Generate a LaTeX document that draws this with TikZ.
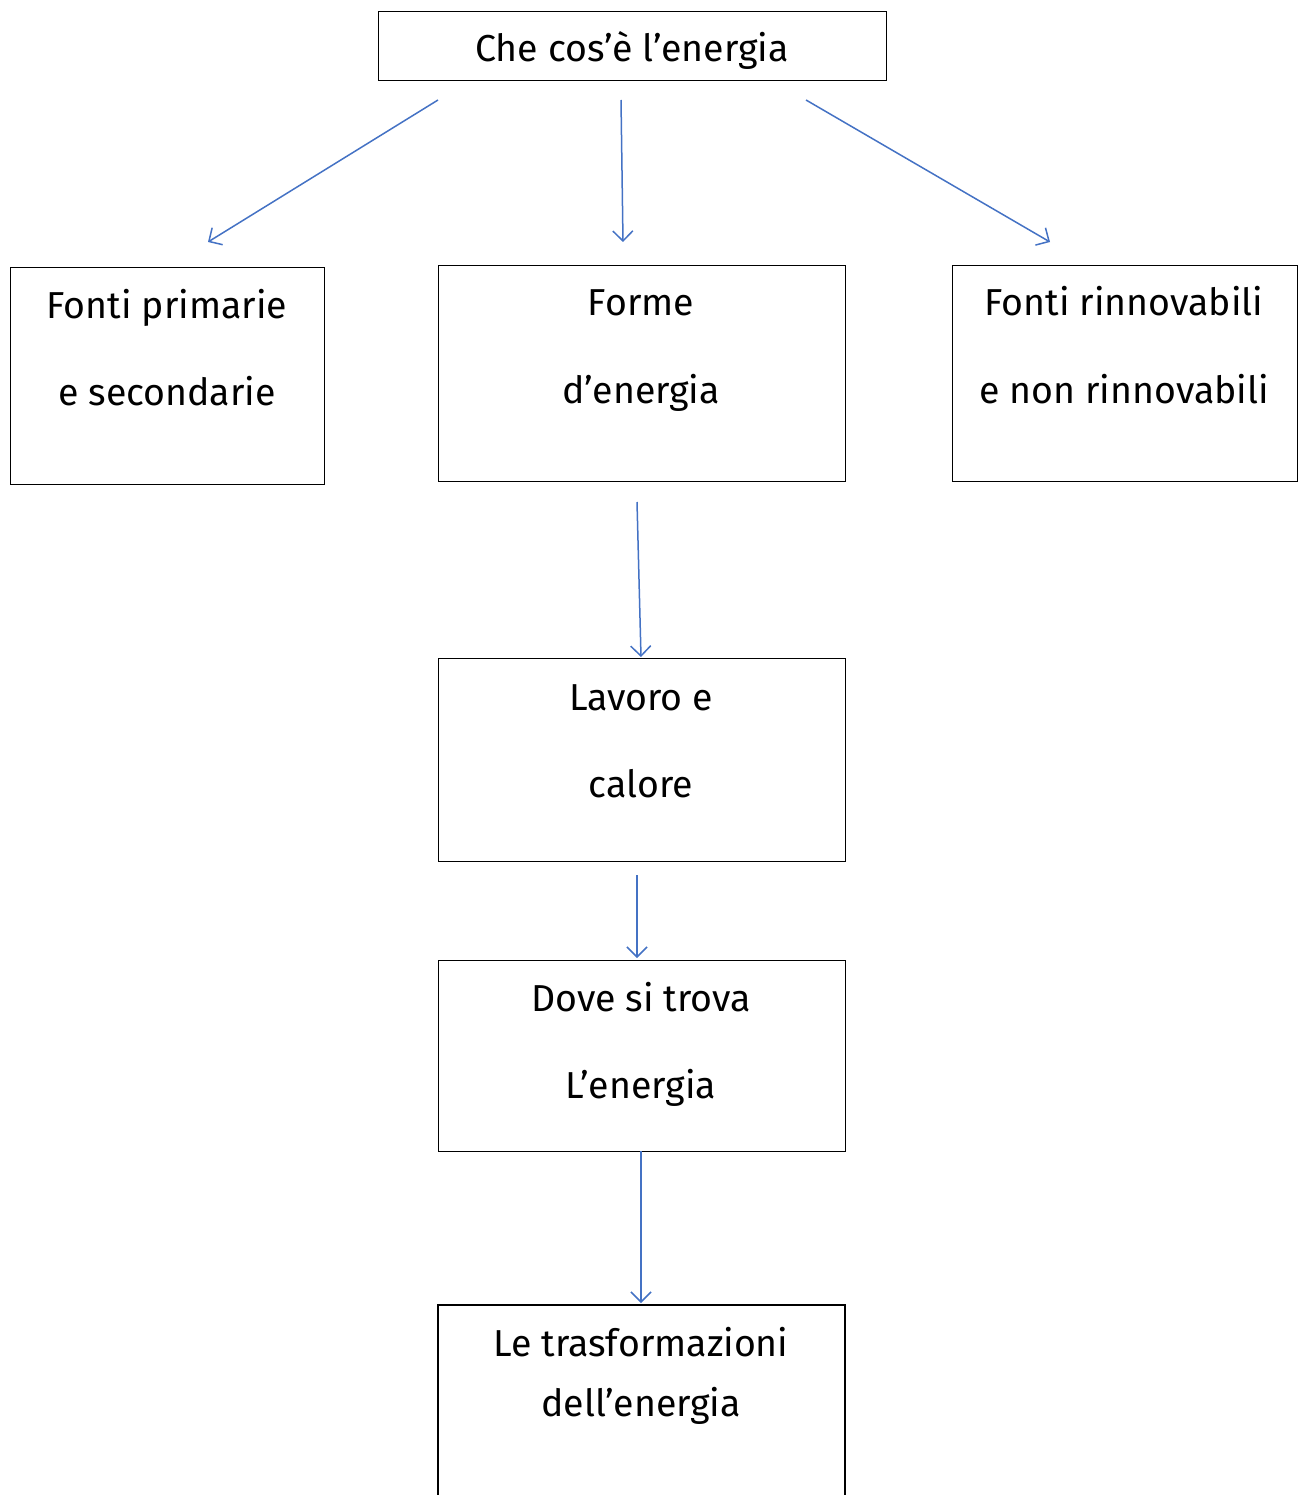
\documentclass[tikz,border=0pt]{standalone}
\usepackage{fontspec}
\setmainfont{Fira Sans}
\usetikzlibrary{arrows.meta}
\definecolor{arrowblue}{RGB}{68,114,196}
\tikzset{
  box/.style={draw=black, line width=1.3pt, rectangle, anchor=north west, inner sep=0pt},
  txt/.style={font=\fontsize{37.5}{40}\selectfont, inner sep=0pt, anchor=base},
  conn/.style={draw=arrowblue, line width=1.5pt, -{Straight Barb[length=10pt,width=20pt,line width=1.5pt]}}
}
\begin{document}
\begin{tikzpicture}[x=1pt,y=-1pt]
\useasboundingbox (0,0) rectangle (1301,1495);
% boxes
\node[box, minimum width=508pt, minimum height=69pt] (top) at (378,11) {};
\node[box, minimum width=314pt, minimum height=217pt] (fp) at (10,267) {};
\node[box, minimum width=407pt, minimum height=216pt] (fe) at (438,265) {};
\node[box, minimum width=345pt, minimum height=216pt] (fr) at (952,265) {};
\node[box, minimum width=407pt, minimum height=203pt] (lc) at (438,658) {};
\node[box, minimum width=407pt, minimum height=191pt] (dt) at (438,960) {};
\draw[line width=1.3pt] (438,1520) -- (438,1305) -- (845,1305) -- (845,1520);
\coordinate (tr) at (641,1305);
% texts
\node[txt] (t0) at (632,62) {Che cos’è l’energia};
\node[txt] (t1a) at (167,318) {Fonti primarie};
\node[txt] (t1b) at (167,405) {e secondarie};
\node[txt] (t2a) at (641,316) {Forme};
\node[txt] (t2b) at (641,403) {d’energia};
\node[txt] (t3a) at (1124,316) {Fonti rinnovabili};
\node[txt] (t3b) at (1124,403) {e non rinnovabili};
\node[txt] (t4a) at (641,710) {Lavoro e};
\node[txt] (t4b) at (641,797) {calore};
\node[txt] (t5a) at (641,1011) {Dove si trova};
\node[txt] (t5b) at (641,1098) {L’energia};
\node[txt] (t6a) at (641,1356) {Le trasformazioni};
\node[txt] (t6b) at (641,1416) {dell’energia};
% connector endpoints
\coordinate (a1s) at (438,100); \coordinate (a1e) at (208,242);
\coordinate (a2s) at (621,100); \coordinate (a2e) at (623,242);
\coordinate (a3s) at (806,100); \coordinate (a3e) at (1050,242);
\coordinate (a4s) at (637,502); \coordinate (a4e) at (641,657);
\coordinate (a5s) at (637,875); \coordinate (a5e) at (637,958);
\coordinate (a6s) at (641,1151); \coordinate (a6e) at (641,1303);
\draw[conn] (a1s) -- (a1e);
\draw[conn] (a2s) -- (a2e);
\draw[conn] (a3s) -- (a3e);
\draw[conn] (a4s) -- (a4e);
\draw[conn] (a5s) -- (a5e);
\draw[conn] (a6s) -- (a6e);
\end{tikzpicture}
\end{document}
